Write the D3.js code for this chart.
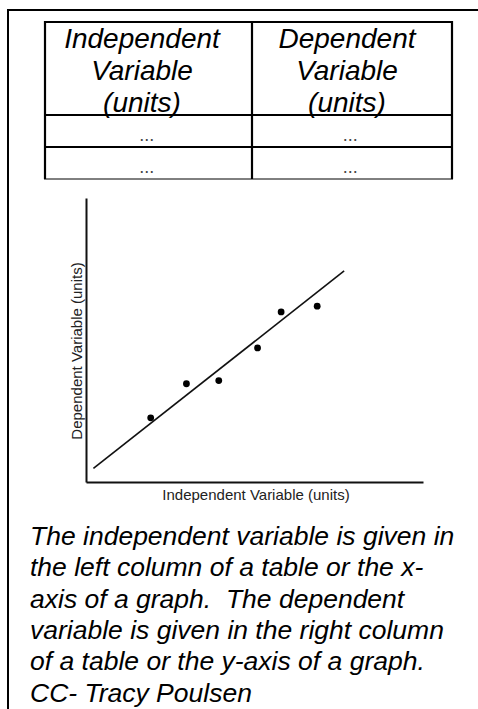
<!DOCTYPE html>
<html>
<head>
<meta charset="utf-8">
<script src="https://cdn.jsdelivr.net/npm/d3@7"></script>
<style>
  body { margin: 0; background: #fff; }
  text { font-family: "Liberation Sans", Arial, sans-serif; }
</style>
</head>
<body>
<script>
//Page size
    const width = 478;
    const height = 709;

//Table contents
    const headers = [["Independent", "Variable", "(units)"], ["Dependent", "Variable", "(units)"]];
    const rows = [["...", "..."], ["...", "..."]];

//Graph data (arbitrary units)
    const pointX = [1.92, 2.98, 3.94, 5.09, 5.79, 6.86];
    const pointY = [2.26, 3.46, 3.57, 4.72, 5.99, 6.19];
    const fitX = [0.22, 7.66];
    const fitY = [0.48, 7.43];
    const xLabel = "Independent Variable (units)";
    const yLabel = "Dependent Variable (units)";

//Caption
    const caption = [
        "The independent variable is given in",
        "the left column of a table or the x-",
        "axis of a graph.  The dependent",
        "variable is given in the right column",
        "of a table or the y-axis of a graph.",
        "CC- Tracy Poulsen"
    ];

//SVG element
    const svg = d3.select("body")
                .append("svg")
                .attr("width", width)
                .attr("height", height);

    //Outer frame, right and bottom edges run off the page
    svg.append("rect")
        .attr("x", 8).attr("y", 10)
        .attr("width", width + 20).attr("height", height + 20)
        .attr("fill", "none")
        .attr("stroke", "#000")
        .attr("stroke-width", 2);

//Table
    const colX = d3.scaleBand()
                .domain([0, 1])
                .range([45, 452]);
    const colEdges = [45, 252, 452];
    const rowEdges = [22, 115, 147, 179];

    const table = svg.append("g");

    //Horizontal rules
    table.selectAll("line.h")
        .data(rowEdges)
        .enter()
        .append("line")
        .attr("x1", colEdges[0] - 1)
        .attr("x2", colEdges[2] + 1)
        .attr("y1", d => d)
        .attr("y2", d => d)
        .attr("stroke", "#000")
        .attr("stroke-width", (d, i) => i === rowEdges.length - 1 ? 1 : 2.2);

    //Vertical rules
    table.selectAll("line.v")
        .data(colEdges)
        .enter()
        .append("line")
        .attr("x1", d => d)
        .attr("x2", d => d)
        .attr("y1", rowEdges[0] - 1)
        .attr("y2", rowEdges[3])
        .attr("stroke", "#000")
        .attr("stroke-width", 2.2);

    //Header text, italic
    headers.forEach((lines, c) => {
        table.selectAll(null)
            .data(lines)
            .enter()
            .append("text")
            .attr("x", [142, 347][c])
            .attr("y", (d, i) => 48 + i * 32)
            .attr("text-anchor", "middle")
            .attr("font-size", 28)
            .attr("font-style", "italic")
            .attr("fill", "#000")
            .text(d => d);
    });

    //Row cells
    rows.forEach((r, ri) => {
        table.selectAll(null)
            .data(r)
            .enter()
            .append("text")
            .attr("x", (d, c) => colX(c) + colX.bandwidth() / 2)
            .attr("y", rowEdges[ri + 1] + 26)
            .attr("text-anchor", "middle")
            .attr("font-size", 18)
            .attr("fill", "#444")
            .text(d => d);
    });

//Graph scales
    const xScale = d3.scaleLinear()
                    .domain([0, 10])
                    .range([86, 423]);
    const yScale = d3.scaleLinear()
                    .domain([0, 10])
                    .range([482, 198]);

//Axes, no ticks
    const bottomAxis = d3.axisBottom(xScale).ticks(0).tickSize(0).tickSizeOuter(0);
    const leftAxis = d3.axisLeft(yScale).ticks(0).tickSize(0).tickSizeOuter(0);

    svg.append("g")
        .attr("transform", "translate(0," + yScale(0) + ")")
        .call(bottomAxis)
        .select(".domain")
        .attr("stroke", "#111")
        .attr("stroke-width", 2);

    svg.append("g")
        .attr("transform", "translate(" + xScale(0) + ",0)")
        .call(leftAxis)
        .select(".domain")
        .attr("stroke", "#111")
        .attr("stroke-width", 2);

//Fit line
    svg.append("path")
        .datum(d3.zip(fitX, fitY))
        .attr("d", d3.line().x(d => xScale(d[0])).y(d => yScale(d[1])))
        .attr("fill", "none")
        .attr("stroke", "#111")
        .attr("stroke-width", 1.6);

//Points
    svg.selectAll("circle")
        .data(d3.zip(pointX, pointY))
        .enter()
        .append("circle")
        .attr("cx", d => xScale(d[0]))
        .attr("cy", d => yScale(d[1]))
        .attr("r", 3.4)
        .attr("fill", "#000");

//Axis labels
    svg.append("text")
        .attr("x", 256)
        .attr("y", 500)
        .attr("text-anchor", "middle")
        .attr("font-size", 15)
        .attr("fill", "#222")
        .text(xLabel);

    svg.append("text")
        .attr("transform", "translate(82,351) rotate(-90)")
        .attr("text-anchor", "middle")
        .attr("font-size", 15)
        .attr("fill", "#222")
        .text(yLabel);

//Caption text
    svg.selectAll("text.caption")
        .data(caption)
        .enter()
        .append("text")
        .attr("class", "caption")
        .attr("x", 30)
        .attr("y", (d, i) => 545 + i * 31.3)
        .attr("font-size", 26.5)
        .attr("font-style", "italic")
        .attr("fill", "#000")
        .style("white-space", "pre")
        .text(d => d);
</script>
</body>
</html>
